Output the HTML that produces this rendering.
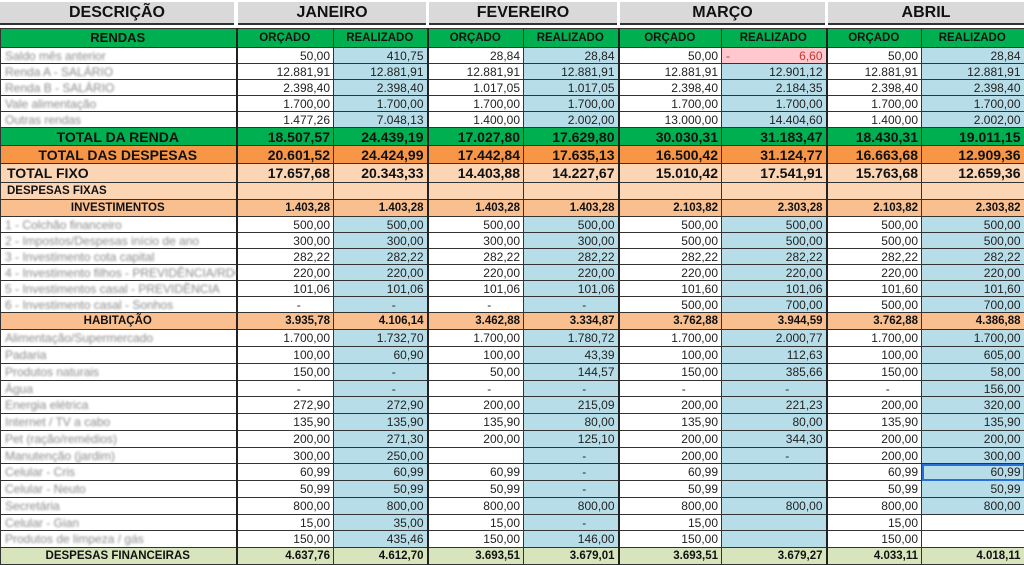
<!DOCTYPE html>
<html><head><meta charset="utf-8">
<style>
*{margin:0;padding:0;box-sizing:border-box}
body{width:1024px;height:564px;overflow:hidden;background:#fff;font-family:"Liberation Sans",Arial,sans-serif;position:relative}
.hd{position:absolute;top:2px;height:23px;background:#d9d9d9;border-bottom:2px solid #333;font-weight:bold;font-size:16px;text-align:center;line-height:22px;color:#111}
table{position:absolute;top:28px;left:0;border-collapse:collapse;table-layout:fixed;width:1024px}
td{border:1px solid #333;font-size:12px;text-align:right;padding:0 3px 0 2px;white-space:nowrap;overflow:hidden;color:#222;height:16px;line-height:14px}
td.d{text-align:left;color:#8a8a8a;filter:blur(1.1px);font-size:12px;padding-left:4px;border-right:2px solid #222}
td.t{text-align:center;font-weight:bold;color:#111;border-right:2px solid #222}
td.m{border-right:2px solid #222}
td.b{background:#b7dde8}
.g td{background:#00b050;font-weight:bold;color:#111}
.g td.t,.g td{font-size:14px}
.r1 td{font-size:11.5px;text-align:center}
.o td{background:#f79646;font-weight:bold;font-size:14px;color:#111}
.p td{background:#fcd5b4;font-weight:bold;font-size:14px;color:#111}
.p2 td{background:#fcd5b4;font-weight:bold;font-size:11.5px;color:#111}
.lg td{background:#d8e4bc;font-weight:bold;font-size:11.5px;color:#111}
td.pk{background:#ffc7ce;color:#c0392b;position:relative}
td.pk span{position:absolute;left:4px}
</style></head><body>
<div class="hd" style="left:0;width:234px">DESCRIÇÃO</div>
<div class="hd" style="left:238px;width:188px">JANEIRO</div>
<div class="hd" style="left:429px;width:188px">FEVEREIRO</div>
<div class="hd" style="left:620px;width:205px">MARÇO</div>
<div class="hd" style="left:828px;width:196px">ABRIL</div>
<table>
<colgroup><col style="width:236px"><col style="width:97px"><col style="width:94px"><col style="width:96px"><col style="width:95px"><col style="width:103px"><col style="width:105px"><col style="width:95px"><col style="width:103px"></colgroup>
<tr class="g r1" style="height:19px"><td class="t" style="font-size:13px">RENDAS</td><td>ORÇADO</td><td class="m">REALIZADO</td><td>ORÇADO</td><td class="m">REALIZADO</td><td>ORÇADO</td><td class="m">REALIZADO</td><td>ORÇADO</td><td class="m">REALIZADO</td></tr>
<tr><td class="d">Saldo mês anterior</td><td>50,00</td><td class="b m">410,75</td><td>28,84</td><td class="b m">28,84</td><td>50,00</td><td class="pk m"><span>-</span>6,60</td><td>50,00</td><td class="b m">28,84</td></tr>
<tr><td class="d">Renda A - SALÁRIO</td><td>12.881,91</td><td class="b m">12.881,91</td><td>12.881,91</td><td class="b m">12.881,91</td><td>12.881,91</td><td class="b m">12.901,12</td><td>12.881,91</td><td class="b m">12.881,91</td></tr>
<tr><td class="d">Renda B - SALÁRIO</td><td>2.398,40</td><td class="b m">2.398,40</td><td>1.017,05</td><td class="b m">1.017,05</td><td>2.398,40</td><td class="b m">2.184,35</td><td>2.398,40</td><td class="b m">2.398,40</td></tr>
<tr><td class="d">Vale alimentação</td><td>1.700,00</td><td class="b m">1.700,00</td><td>1.700,00</td><td class="b m">1.700,00</td><td>1.700,00</td><td class="b m">1.700,00</td><td>1.700,00</td><td class="b m">1.700,00</td></tr>
<tr><td class="d">Outras rendas</td><td>1.477,26</td><td class="b m">7.048,13</td><td>1.400,00</td><td class="b m">2.002,00</td><td>13.000,00</td><td class="b m">14.404,60</td><td>1.400,00</td><td class="b m">2.002,00</td></tr>
<tr class="g" style="height:18px"><td class="t">TOTAL DA RENDA</td><td>18.507,57</td><td class="m">24.439,19</td><td>17.027,80</td><td class="m">17.629,80</td><td>30.030,31</td><td class="m">31.183,47</td><td>18.430,31</td><td class="m">19.011,15</td></tr>
<tr class="o" style="height:18px"><td class="t">TOTAL DAS DESPESAS</td><td>20.601,52</td><td class="m">24.424,99</td><td>17.442,84</td><td class="m">17.635,13</td><td>16.500,42</td><td class="m">31.124,77</td><td>16.663,68</td><td class="m">12.909,36</td></tr>
<tr class="p" style="height:19px"><td class="t" style="text-align:left;padding-left:6px">TOTAL FIXO</td><td>17.657,68</td><td class="m">20.343,33</td><td>14.403,88</td><td class="m">14.227,67</td><td>15.010,42</td><td class="m">17.541,91</td><td>15.763,68</td><td class="m">12.659,36</td></tr>
<tr class="p2" style="height:17px"><td class="t" style="text-align:left;padding-left:6px">DESPESAS FIXAS</td><td></td><td class="m"></td><td></td><td class="m"></td><td></td><td class="m"></td><td></td><td class="m"></td></tr>
<tr class="p2" style="height:17px;"><td class="t" style="background:#fabf8f">INVESTIMENTOS</td><td style="background:#fabf8f">1.403,28</td><td class="m" style="background:#fabf8f">1.403,28</td><td style="background:#fabf8f">1.403,28</td><td class="m" style="background:#fabf8f">1.403,28</td><td style="background:#fabf8f">2.103,82</td><td class="m" style="background:#fabf8f">2.303,28</td><td style="background:#fabf8f">2.103,82</td><td class="m" style="background:#fabf8f">2.303,82</td></tr>
<tr><td class="d">1 - Colchão financeiro</td><td>500,00</td><td class="b m">500,00</td><td>500,00</td><td class="b m">500,00</td><td>500,00</td><td class="b m">500,00</td><td>500,00</td><td class="b m">500,00</td></tr>
<tr><td class="d">2 - Impostos/Despesas início de ano</td><td>300,00</td><td class="b m">300,00</td><td>300,00</td><td class="b m">300,00</td><td>500,00</td><td class="b m">500,00</td><td>500,00</td><td class="b m">500,00</td></tr>
<tr><td class="d">3 - Investimento cota capital</td><td>282,22</td><td class="b m">282,22</td><td>282,22</td><td class="b m">282,22</td><td>282,22</td><td class="b m">282,22</td><td>282,22</td><td class="b m">282,22</td></tr>
<tr><td class="d">4 - Investimento filhos - PREVIDÊNCIA/RDC</td><td>220,00</td><td class="b m">220,00</td><td>220,00</td><td class="b m">220,00</td><td>220,00</td><td class="b m">220,00</td><td>220,00</td><td class="b m">220,00</td></tr>
<tr><td class="d">5 - Investimentos casal - PREVIDÊNCIA</td><td>101,06</td><td class="b m">101,06</td><td>101,06</td><td class="b m">101,06</td><td>101,60</td><td class="b m">101,06</td><td>101,60</td><td class="b m">101,60</td></tr>
<tr><td class="d">6 - Investimento casal - Sonhos</td><td style="text-align:center;padding-left:30px">-</td><td class="b m" style="text-align:center;padding-left:30px">-</td><td style="text-align:center;padding-left:30px">-</td><td class="b m" style="text-align:center;padding-left:30px">-</td><td>500,00</td><td class="b m">700,00</td><td>500,00</td><td class="b m">700,00</td></tr>
<tr class="p2" style="height:17px"><td class="t" style="background:#fabf8f">HABITAÇÃO</td><td style="background:#fabf8f">3.935,78</td><td class="m" style="background:#fabf8f">4.106,14</td><td style="background:#fabf8f">3.462,88</td><td class="m" style="background:#fabf8f">3.334,87</td><td style="background:#fabf8f">3.762,88</td><td class="m" style="background:#fabf8f">3.944,59</td><td style="background:#fabf8f">3.762,88</td><td class="m" style="background:#fabf8f">4.386,88</td></tr>
<tr style="height:17px"><td class="d">Alimentação/Supermercado</td><td>1.700,00</td><td class="b m">1.732,70</td><td>1.700,00</td><td class="b m">1.780,72</td><td>1.700,00</td><td class="b m">2.000,77</td><td>1.700,00</td><td class="b m">1.700,00</td></tr>
<tr style="height:17px"><td class="d">Padaria</td><td>100,00</td><td class="b m">60,90</td><td>100,00</td><td class="b m">43,39</td><td>100,00</td><td class="b m">112,63</td><td>100,00</td><td class="b m">605,00</td></tr>
<tr style="height:17px"><td class="d">Produtos naturais</td><td>150,00</td><td class="b m" style="text-align:center;padding-left:30px">-</td><td>50,00</td><td class="b m">144,57</td><td>150,00</td><td class="b m">385,66</td><td>150,00</td><td class="b m">58,00</td></tr>
<tr style="height:16px"><td class="d">Água</td><td style="text-align:center;padding-left:30px">-</td><td class="b m" style="text-align:center;padding-left:30px">-</td><td style="text-align:center;padding-left:30px">-</td><td class="b m" style="text-align:center;padding-left:30px">-</td><td style="text-align:center;padding-left:30px">-</td><td class="b m" style="text-align:center;padding-left:30px">-</td><td style="text-align:center;padding-left:30px">-</td><td class="b m">156,00</td></tr>
<tr style="height:17px"><td class="d">Energia elétrica</td><td>272,90</td><td class="b m">272,90</td><td>200,00</td><td class="b m">215,09</td><td>200,00</td><td class="b m">221,23</td><td>200,00</td><td class="b m">320,00</td></tr>
<tr style="height:17px"><td class="d">Internet / TV a cabo</td><td>135,90</td><td class="b m">135,90</td><td>135,90</td><td class="b m">80,00</td><td>135,90</td><td class="b m">80,00</td><td>135,90</td><td class="b m">135,90</td></tr>
<tr style="height:17px"><td class="d">Pet (ração/remédios)</td><td>200,00</td><td class="b m">271,30</td><td>200,00</td><td class="b m">125,10</td><td>200,00</td><td class="b m">344,30</td><td>200,00</td><td class="b m">200,00</td></tr>
<tr style="height:16px"><td class="d">Manutenção (jardim)</td><td>300,00</td><td class="b m">250,00</td><td></td><td class="b m" style="text-align:center;padding-left:30px">-</td><td>200,00</td><td class="b m" style="text-align:center;padding-left:30px">-</td><td>200,00</td><td class="b m">300,00</td></tr>
<tr style="height:17px"><td class="d">Celular - Cris</td><td>60,99</td><td class="b m">60,99</td><td>60,99</td><td class="b m" style="text-align:center;padding-left:30px">-</td><td>60,99</td><td class="b m"></td><td>60,99</td><td class="b m" style="outline:2px solid #2a6fd6;outline-offset:-2px">60,99</td></tr>
<tr style="height:17px"><td class="d">Celular - Neuto</td><td>50,99</td><td class="b m">50,99</td><td>50,99</td><td class="b m" style="text-align:center;padding-left:30px">-</td><td>50,99</td><td class="b m"></td><td>50,99</td><td class="b m">50,99</td></tr>
<tr style="height:17px"><td class="d">Secretária</td><td>800,00</td><td class="b m">800,00</td><td>800,00</td><td class="b m">800,00</td><td>800,00</td><td class="b m">800,00</td><td>800,00</td><td class="b m">800,00</td></tr>
<tr style="height:16px"><td class="d">Celular - Gian</td><td>15,00</td><td class="b m">35,00</td><td>15,00</td><td class="b m" style="text-align:center;padding-left:30px">-</td><td>15,00</td><td class="b m"></td><td>15,00</td><td class="m"></td></tr>
<tr style="height:17px"><td class="d">Produtos de limpeza / gás</td><td>150,00</td><td class="b m">435,46</td><td>150,00</td><td class="b m">146,00</td><td>150,00</td><td class="b m"></td><td>150,00</td><td class="m"></td></tr>
<tr class="lg" style="height:17px"><td class="t" style="background:#d8e4bc">DESPESAS FINANCEIRAS</td><td>4.637,76</td><td class="m">4.612,70</td><td>3.693,51</td><td class="m">3.679,01</td><td>3.693,51</td><td class="m">3.679,27</td><td>4.033,11</td><td class="m">4.018,11</td></tr>
</table>
</body></html>
